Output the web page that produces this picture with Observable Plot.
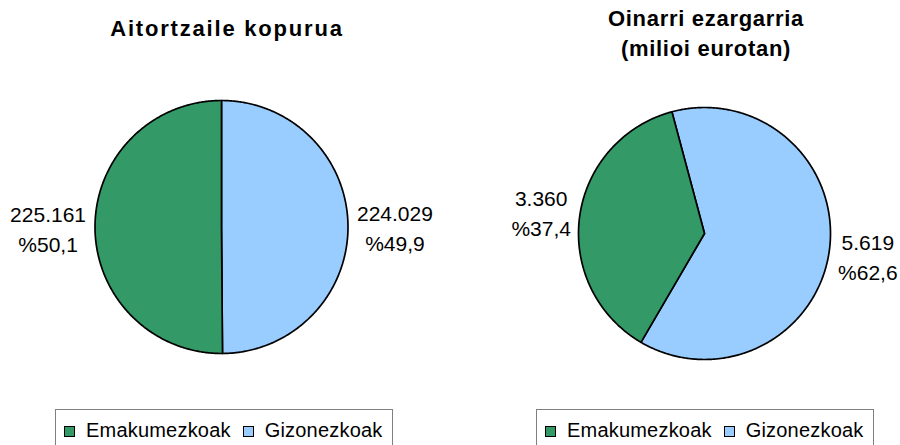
<!DOCTYPE html>
<html>
<head>
<meta charset="utf-8">
<script src="https://cdn.jsdelivr.net/npm/d3@7"></script>
<script src="https://cdn.jsdelivr.net/npm/@observablehq/plot@0.6"></script>
<style>
  html, body { margin: 0; padding: 0; background: #fff; }
  #root { position: relative; width: 900px; height: 445px; overflow: hidden; font-family: "Liberation Sans", Arial, sans-serif; color: #000; }
  .pie { position: absolute; top: 0; }
  .title { position: absolute; font-weight: bold; font-size: 22px; text-align: center; white-space: nowrap; transform: translateX(-50%); }
  .legend { position: absolute; top: 409px; height: 40px; width: 338px; border: 1px solid #808080; box-sizing: border-box; display: flex; align-items: flex-start; padding: 9px 0 0 8px; font-size: 20px; letter-spacing: 0.2px; }
  .legend .item { display: flex; align-items: center; margin-right: 12px; }
  .legend .sw { width: 9px; height: 9px; border: 1px solid #000; margin-right: 11px; margin-top: 2px; }
  .legend .lab { line-height: 22px; }
</style>
</head>
<body>
<div id="root"></div>
<script>
// ---- data ----
const categories = ["Emakumezkoak", "Gizonezkoak"];
const colors = ["#339966", "#99ccff"];
const declarants = [225161, 224029];          // Aitortzaile kopurua
const taxableBase = [3360, 5619];             // Oinarri ezargarria (milioi eurotan)
const titles = [["Aitortzaile kopurua"], ["Oinarri ezargarria", "(milioi eurotan)"]];

const loc = d3.formatLocale({decimal: ",", thousands: ".", grouping: [3], currency: ["", ""]});
const fmtInt = loc.format(",d");
const fmtPct = loc.format(".1f");

const measure = (() => {
  const c = document.createElement("canvas").getContext("2d");
  c.font = "21px 'Liberation Sans'";
  return s => c.measureText(s).width;
})();

function piePlot({values, startDeg, W, H, cx, cy, r}) {
  const total = d3.sum(values);
  // drawing order clockwise: Gizonezkoak first, then Emakumezkoak
  const order = [1, 0];
  let a = startDeg;
  const slices = [];
  for (const i of order) {
    const span = values[i] / total * 360;
    slices.push({i, a0: a, a1: a + span});
    a += span;
  }
  const marks = [];
  const labels = [];
  for (const s of slices) {
    const pts = [{x: 0, y: 0}];
    const n = Math.max(2, Math.ceil((s.a1 - s.a0) / 0.5));
    for (let k = 0; k <= n; k++) {
      const t = (s.a0 + (s.a1 - s.a0) * k / n) * Math.PI / 180;
      pts.push({x: Math.sin(t), y: Math.cos(t)});
    }
    pts.push({x: 0, y: 0});
    marks.push(Plot.line(pts, {x: "x", y: "y", fill: colors[s.i], stroke: "#000", strokeWidth: 1.7, strokeLinejoin: "round", curve: "linear"}));
    const l1 = fmtInt(values[s.i]);
    const l2 = "%" + fmtPct(values[s.i] / total * 100);
    const hw = Math.max(measure(l1), measure(l2)) / 2;
    const mid = (s.a0 + s.a1) / 2 * Math.PI / 180;
    const rr = (r + 9 + hw) / r;
    labels.push({x: Math.sin(mid) * rr, y: Math.cos(mid) * rr, text: l1 + "\n" + l2});
  }
  marks.push(Plot.text(labels, {x: "x", y: "y", text: "text", fontSize: 21, lineHeight: 1.43, fill: "#000", textAnchor: "middle", fontFamily: "Liberation Sans, Arial, sans-serif"}));
  return Plot.plot({
    width: W, height: H,
    margin: 0,
    x: {type: "linear", axis: null, domain: [-cx / r, (W - cx) / r], range: [0, W]},
    y: {type: "linear", axis: null, domain: [-(H - cy) / r, cy / r], range: [H, 0]},
    style: {background: "transparent", overflow: "visible"},
    marks
  });
}

const root = document.getElementById("root");

const p1 = piePlot({values: declarants, startDeg: 0, W: 450, H: 405, cx: 221, cy: 226.5, r: 126.5});
p1.classList.add("pie"); p1.style.left = "0px";
root.appendChild(p1);

const p2 = piePlot({values: taxableBase, startDeg: -15, W: 450, H: 405, cx: 254, cy: 233, r: 126});
p2.classList.add("pie"); p2.style.left = "450px";
root.appendChild(p2);

// titles
function addTitle(lines, cxPos, top, lh, ls) {
  const d = document.createElement("div");
  d.className = "title";
  d.style.left = cxPos + "px";
  d.style.top = top + "px";
  d.style.lineHeight = lh + "px";
  d.style.letterSpacing = ls + "px";
  d.innerHTML = lines.map(s => s.replace(/&/g, "&amp;")).join("<br>");
  root.appendChild(d);
}
addTitle(titles[0], 227, 17, 24, 1.8);
addTitle(titles[1], 706, 4, 30, 0.7);

// legends
function addLegend(left) {
  const d = document.createElement("div");
  d.className = "legend";
  d.style.left = left + "px";
  categories.forEach((c, i) => {
    const it = document.createElement("div");
    it.className = "item";
    const sw = document.createElement("div");
    sw.className = "sw";
    sw.style.background = colors[i];
    const lab = document.createElement("span");
    lab.className = "lab";
    lab.textContent = c;
    it.appendChild(sw); it.appendChild(lab);
    d.appendChild(it);
  });
  root.appendChild(d);
}
addLegend(55);
addLegend(536);
</script>
</body>
</html>
